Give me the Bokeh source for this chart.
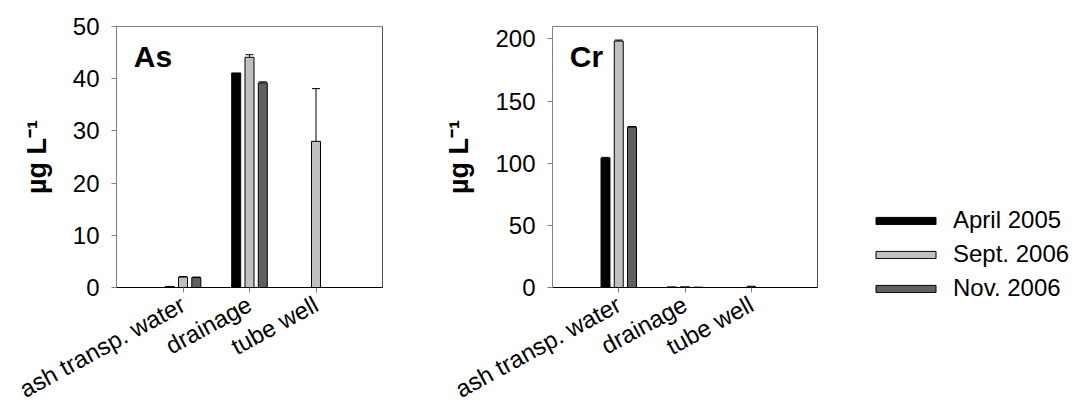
from bokeh.plotting import figure
from bokeh.models import (Range1d, FixedTicker, Label, Legend, LegendItem, Whisker,
                          TeeHead, ColumnDataSource, Span)
from bokeh.layouts import row, column
from bokeh.embed import file_html
from bokeh.resources import INLINE

categories = ["ash transp. water", "drainage", "tube well"]
series = ["April 2005", "Sept. 2006", "Nov. 2006"]
colors = ["#000000", "#C0C0C0", "#606060"]

as_apr = [0.2, 41.1, 0.0]
as_sep = [2.0, 44.1, 28.0]
as_nov = [1.9, 39.2, 0.0]
as_apr_err = [0.0, 0.0, 0.0]
as_sep_err = [0.1, 0.5, 10.1]
as_nov_err = [0.1, 0.2, 0.0]

cr_apr = [104.2, 0.5, 0.0]
cr_sep = [198.3, 0.6, 0.6]
cr_nov = [129.1, 0.3, 0.0]
cr_apr_err = [0.5, 0.0, 0.0]
cr_sep_err = [0.8, 0.0, 0.4]
cr_nov_err = [0.5, 0.0, 0.0]

as_ticks = [0, 10, 20, 30, 40, 50]
cr_ticks = [0, 50, 100, 150, 200]

FONT = "Liberation Sans"
OFFSETS = [-0.2, 0.0, 0.2]
BAR_W = 0.135


def make_panel(name, vals, errs, ymax, yticks, width, bl, br, bt, bb):
    p = figure(width=width, height=417, x_range=Range1d(0, 4), y_range=Range1d(0, ymax),
               output_backend="svg", toolbar_location=None,
               min_border_left=bl, min_border_right=br, min_border_top=bt, min_border_bottom=bb)
    p.xgrid.visible = False
    p.ygrid.visible = False
    p.outline_line_color = "#808080"
    p.background_fill_color = "white"
    p.border_fill_color = "white"

    sources = []
    pos = list(range(1, len(categories) + 1))
    for k, (v, e) in enumerate(zip(vals, errs)):
        xs = [c + OFFSETS[k] for c in pos]
        src = ColumnDataSource(dict(x=xs, top=v))
        sources.append(src)
        p.vbar(x="x", top="top", width=BAR_W, source=src, fill_color=colors[k],
               line_color="black", line_width=1)
        keep = [i for i in range(len(e)) if e[i] > 0]
        if keep:
            wsrc = ColumnDataSource(dict(x=[xs[i] for i in keep], lo=[v[i] for i in keep],
                                         hi=[v[i] + e[i] for i in keep]))
            w = Whisker(base="x", lower="lo", upper="hi", source=wsrc,
                        upper_head=TeeHead(size=8, line_color="black", line_width=1),
                        lower_head=None, line_color="black", line_width=1)
            p.add_layout(w)

    # right border darker
    p.add_layout(Span(location=4, dimension="height", line_color="#202020", line_width=1))

    xa = p.xaxis[0]
    xa.ticker = FixedTicker(ticks=pos)
    xa.major_label_overrides = {i + 1: c for i, c in enumerate(categories)}
    xa.major_label_orientation = 0.5
    xa.major_label_text_font = FONT
    xa.major_label_text_font_size = "24px"
    xa.major_label_text_color = "black"
    xa.major_label_standoff = 10
    xa.major_tick_out = 5
    xa.major_tick_in = 0
    xa.major_tick_line_color = "#808080"
    xa.minor_tick_line_color = None
    xa.axis_line_color = "black"

    ya = p.yaxis[0]
    ya.ticker = FixedTicker(ticks=yticks)
    ya.major_label_text_font = FONT
    ya.major_label_text_font_size = "24px"
    ya.major_label_text_color = "black"
    ya.major_label_standoff = 12
    ya.major_tick_out = 5
    ya.major_tick_in = 0
    ya.major_tick_line_color = "#808080"
    ya.minor_tick_line_color = None
    ya.axis_line_color = "#808080"
    ya.axis_label = "µg L⁻¹"
    ya.axis_label_text_font = FONT
    ya.axis_label_text_font_style = "bold"
    ya.axis_label_text_font_size = "27px"
    ya.axis_label_text_color = "black"
    ya.axis_label_standoff = 18

    p.add_layout(Label(x=0.26, y=ymax * 0.822, text=name, text_font=FONT,
                       text_font_style="bold", text_font_size="30px", text_color="black"))
    return p, sources


p1, _ = make_panel("As", [as_apr, as_sep, as_nov], [as_apr_err, as_sep_err, as_nov_err],
                   50, as_ticks, 400, 116, 18, 24, 129)
p2, cr_sources = make_panel("Cr", [cr_apr, cr_sep, cr_nov], [cr_apr_err, cr_sep_err, cr_nov_err],
                            210, cr_ticks, 418, 152, 1, 26, 127)

# legend panel (keys for the Cr series, bars themselves hidden here)
p3 = figure(width=263, height=417, frame_width=263, frame_height=417,
            x_range=Range1d(0, 4), y_range=Range1d(0, 210),
            output_backend="svg", toolbar_location=None, x_axis_location=None,
            y_axis_location=None, min_border=0)
p3.xgrid.visible = False
p3.ygrid.visible = False
p3.outline_line_color = None
items = []
for s, c, src in zip(series, colors, cr_sources):
    r = p3.vbar(x="x", top="top", width=BAR_W, source=src, fill_color=c,
                line_color="black", line_width=1, visible=False)
    items.append(LegendItem(label=s, renderers=[r]))
legend = Legend(items=items, location=(50, 115), glyph_width=75, glyph_height=9,
                label_height=28, label_standoff=10, spacing=6, padding=0, margin=0,
                label_text_font=FONT, label_text_font_size="24px", label_text_color="black",
                border_line_color=None, background_fill_alpha=0, inactive_fill_alpha=0,
                click_policy="none")
p3.add_layout(legend, "center")

layout = row(p1, p2, column(p3))
open("out.html", "w").write(file_html(layout, INLINE))
